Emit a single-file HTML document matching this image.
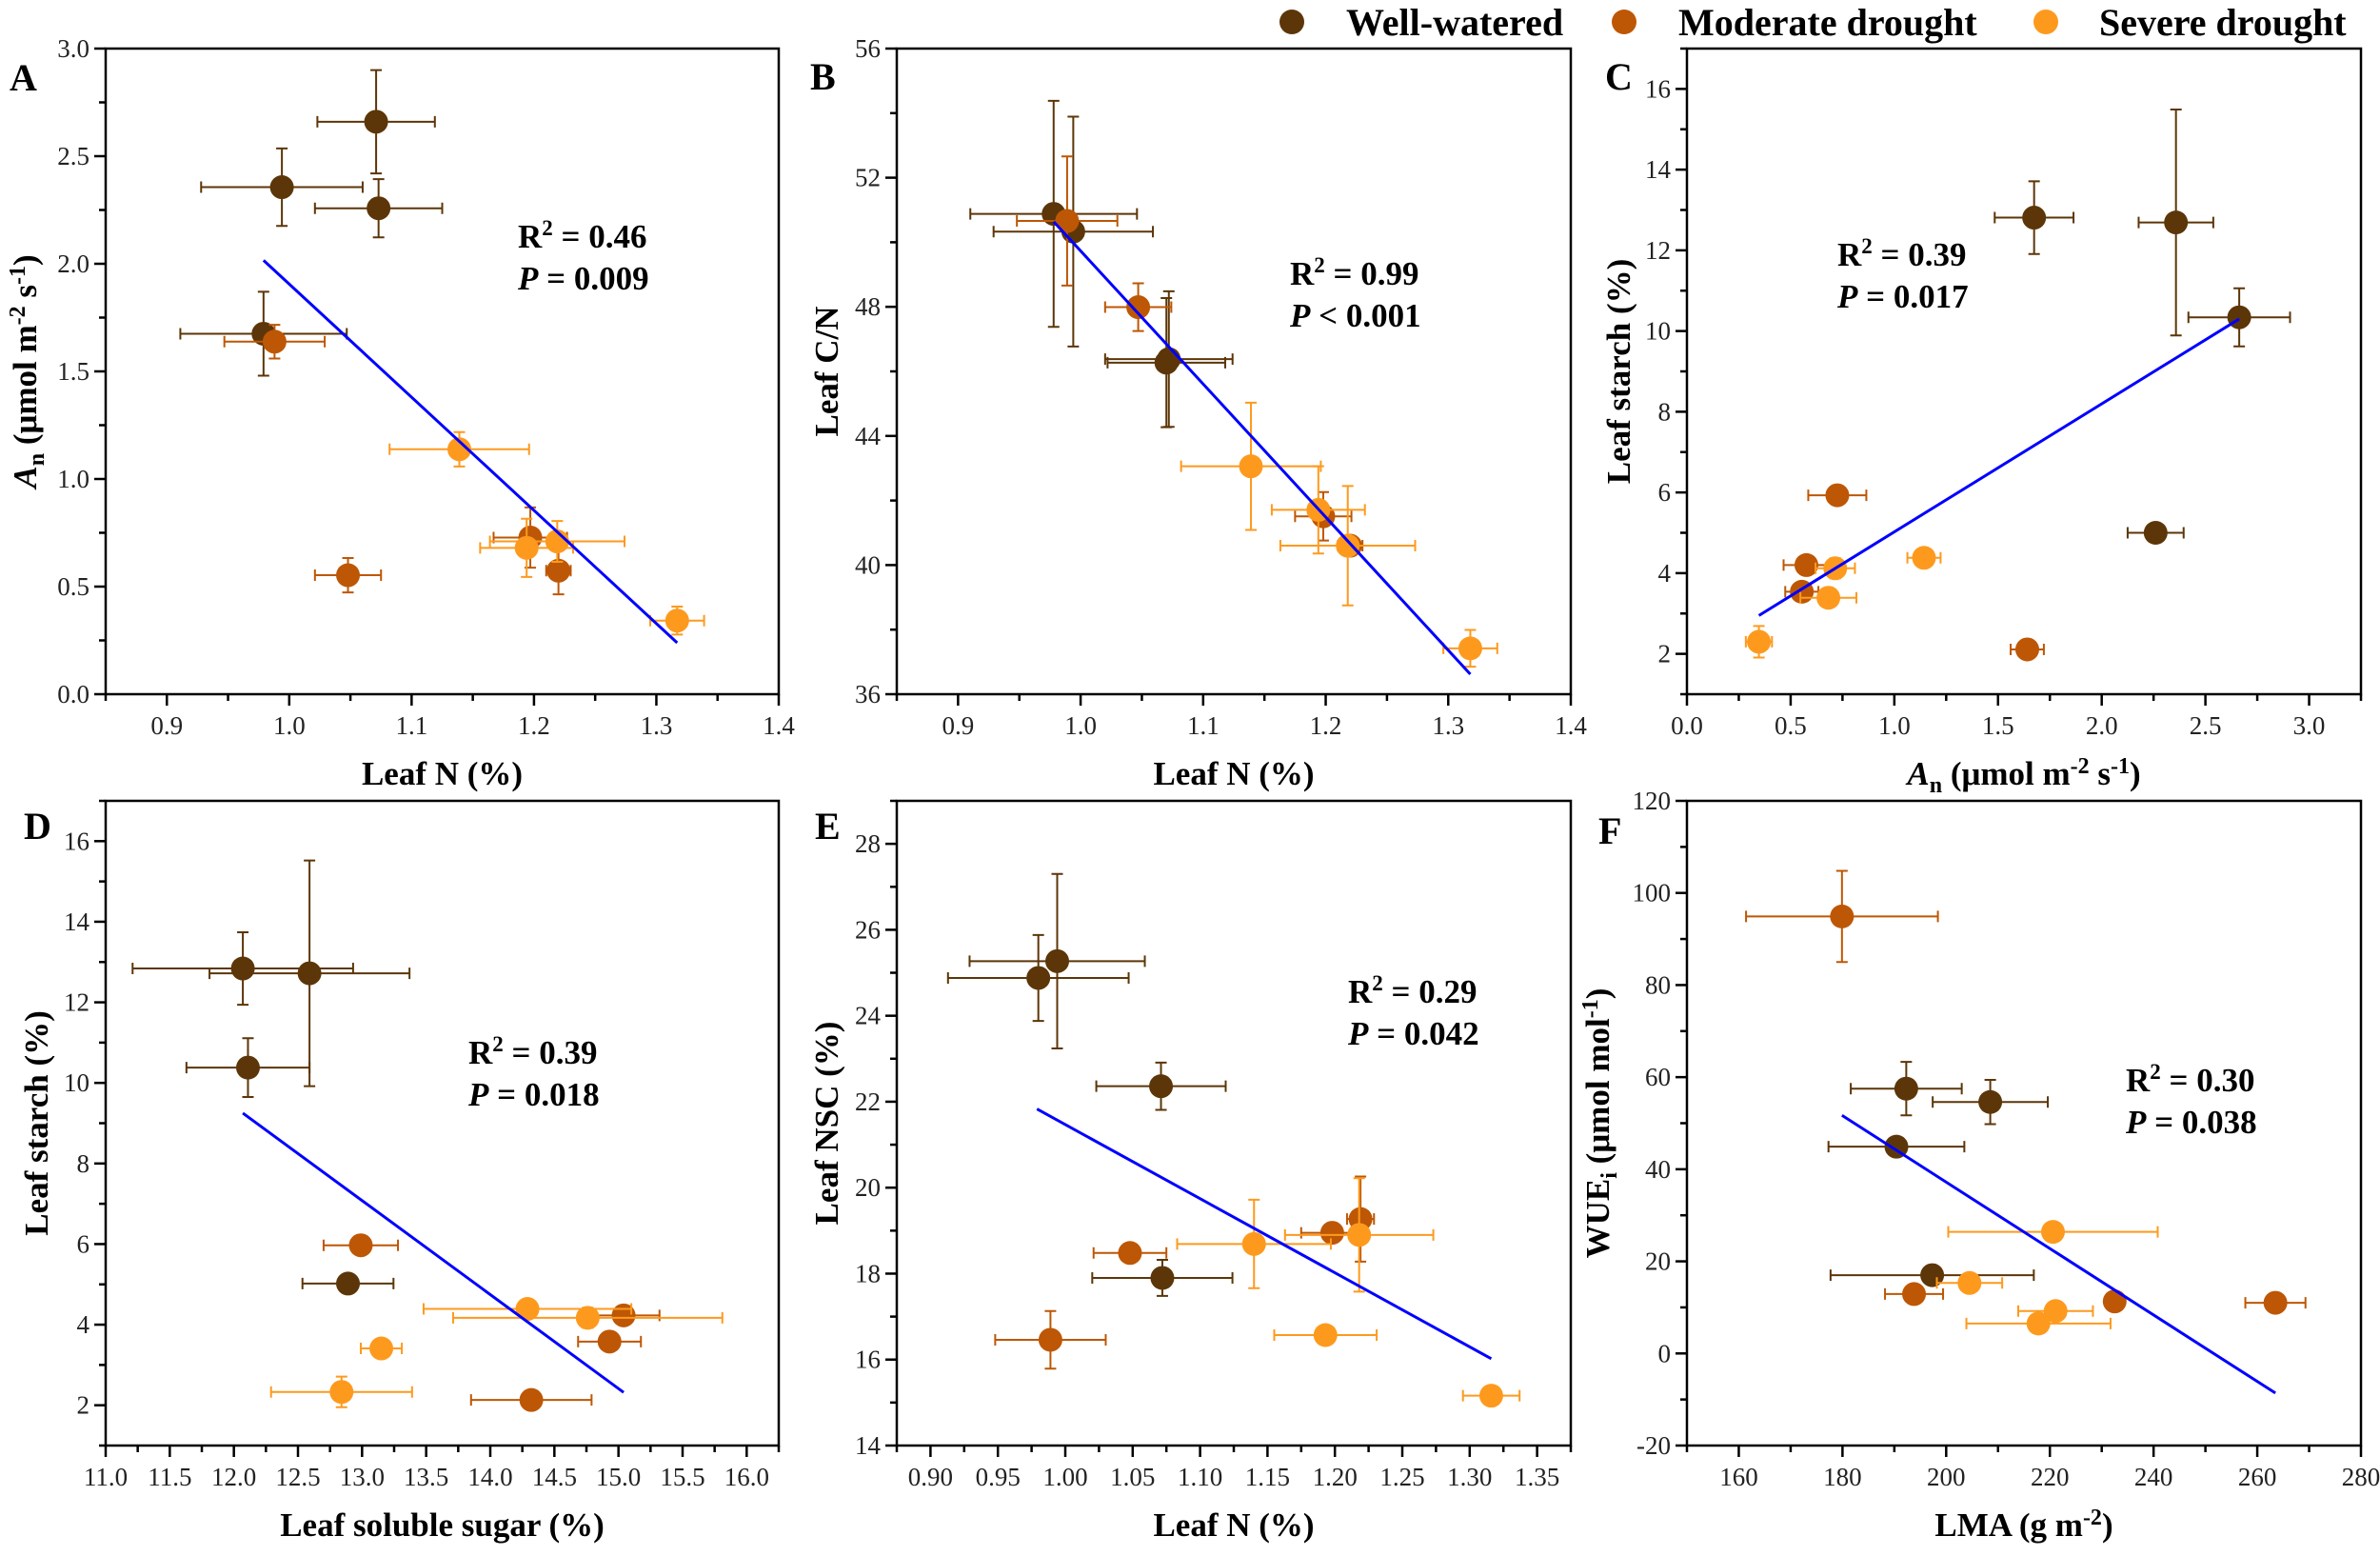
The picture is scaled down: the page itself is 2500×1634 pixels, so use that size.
<!DOCTYPE html>
<html><head><meta charset="utf-8"><style>
html,body{margin:0;padding:0;background:#fff;}
svg, svg text{font-family:"Liberation Serif","DejaVu Serif",serif !important;}
</style></head><body>
<svg id="fig" xmlns="http://www.w3.org/2000/svg" width="2500" height="1629" viewBox="0 0 2500 1629" font-family="Liberation Serif, DejaVu Serif, serif">
<rect width="2500" height="1629" fill="#fff"/>
<g font-weight="bold" font-size="40" font-family="Liberation Serif, serif">
 <g><circle cx="1357" cy="23" r="13" fill="#5c3608"/><text x="1414" y="37">Well-watered</text></g>
 <g><circle cx="1706" cy="23" r="13" fill="#bd5705"/><text x="1763" y="37">Moderate drought</text></g>
 <g><circle cx="2149" cy="23" r="13" fill="#fd9a1e"/><text x="2205" y="37">Severe drought</text></g>
</g>
</svg>
<script>
// group of each point: 0 well-watered, 1 moderate drought, 2 severe drought
const groups = [0,0,0,0,1,1,1,1,2,2,2,2];
// Panel A: Leaf N vs An
const aX = [1.071,0.994,1.073,0.979, 0.988,1.197,1.220,1.048, 1.139,1.219,1.194,1.317];
const aY = [2.66,2.356,2.258,1.675, 1.638,0.728,0.574,0.553, 1.138,0.71,0.68,0.342];
const aXerr = [0.048,0.066,0.052,0.068, 0.041,0.03,0.01,0.027, 0.057,0.055,0.038,0.022];
const aYerr = [0.24,0.18,0.135,0.195, 0.078,0.14,0.11,0.08, 0.08,0.095,0.135,0.065];
const aFitX = [0.979,1.317];
const aFitY = [2.016,0.239];
// Panel B: Leaf N vs Leaf C/N
const bX = [0.978,0.994,1.072,1.070, 0.989,1.047,1.198,1.220, 1.139,1.194,1.218,1.318];
const bY = [50.88,50.33,46.38,46.27, 50.66,47.99,41.51,40.6, 43.06,41.71,40.6,37.42];
const bXerr = [0.068,0.065,0.052,0.048, 0.041,0.027,0.023,0.01, 0.057,0.038,0.055,0.022];
const bYerr = [3.5,3.56,2.1,2.0, 2.0,0.74,0.75,0.3, 1.97,1.35,1.85,0.57];
const bFitX = [0.978,1.318];
const bFitY = [50.64,36.62];
// Panel C: An vs Leaf starch
const cX = [1.674,2.358,2.663,2.26, 0.725,0.576,0.554,1.641, 1.143,0.715,0.682,0.347];
const cY = [12.81,12.69,10.34,5.0, 5.93,4.2,3.54,2.11, 4.38,4.12,3.39,2.3];
const cXerr = [0.19,0.18,0.245,0.135, 0.14,0.11,0.08,0.08, 0.08,0.095,0.135,0.063];
const cYerr = [0.9,2.8,0.72,0.1, 0.1,0.1,0.1,0.1, 0.1,0.25,0.1,0.39];
const cFitX = [0.347,2.663];
const cFitY = [2.95,10.30];
// Panel D: Leaf soluble sugar vs Leaf starch
const dX = [12.07,12.59,12.11,12.89, 12.99,15.04,14.93,14.32, 14.29,14.76,13.15,12.84];
const dY = [12.84,12.72,10.38,5.02, 5.97,4.23,3.58,2.13, 4.39,4.17,3.41,2.33];
const dXerr = [0.86,0.78,0.48,0.355, 0.29,0.28,0.245,0.47, 0.81,1.05,0.16,0.55];
const dYerr = [0.9,2.8,0.73,0.1, 0.1,0.1,0.1,0.1, 0.1,0.25,0.1,0.38];
const dFitX = [12.07,15.04];
const dFitY = [9.25,2.32];
// Panel E: Leaf N vs Leaf NSC
const eX = [0.980,0.994,1.071,1.072, 1.048,1.219,1.198,0.989, 1.140,1.218,1.193,1.316];
const eY = [24.88,25.27,22.36,17.9, 18.48,19.27,18.95,16.46, 18.69,18.9,16.57,15.16];
const eXerr = [0.067,0.065,0.048,0.052, 0.027,0.01,0.023,0.041, 0.057,0.055,0.038,0.021];
const eYerr = [1.0,2.03,0.55,0.42, 0.1,0.99,0.1,0.67, 1.03,1.32,0.1,0.1];
const eFitX = [0.979,1.316];
const eFitY = [21.83,16.02];
// Panel F: LMA vs WUEi
const fX = [192.3,208.5,190.4,197.3, 179.9,193.8,232.5,263.5, 220.6,204.5,221.1,217.8];
const fY = [57.5,54.6,44.9,17.0, 94.9,12.9,11.3,11.0, 26.4,15.3,9.2,6.5];
const fXerr = [10.7,11.1,13.1,19.6, 18.5,5.6,1,5.8, 20.2,6.3,7.2,13.9];
const fYerr = [5.8,4.8,1,1, 9.9,1,1,1, 1,1.5,1,1];
const fFitX = [179.9,263.5];
const fFitY = [51.7,-8.6];
const statR2 = ['0.46','0.99','0.39','0.39','0.29','0.30'];
const statP = ['= 0.009','< 0.001','= 0.017','= 0.018','= 0.042','= 0.038'];

const COLORS = ['#5c3608','#bd5705','#fd9a1e'];
const FONT = 'Liberation Serif, DejaVu Serif, serif';
const NS = 'http://www.w3.org/2000/svg';
const svg = document.getElementById('fig');
function mk(tag, attrs, parent){const e=document.createElementNS(NS,tag);for(const k in attrs)e.setAttribute(k,attrs[k]);if(tag==='text')e.setAttribute('font-family',FONT);(parent||svg).appendChild(e);return e;}

const panels = [
 {key:'a',letter:'A',L:111,R:818,T:51,B:729,xmin:0.85,xmax:1.4,ymin:0,ymax:3,xs:0.9,xM:0.1,xm:0.05,xd:1,ys:0,yM:0.5,ym:0.25,yd:1,
  X:aX,Y:aY,XE:aXerr,YE:aYerr,FX:aFitX,FY:aFitY,ann:[544,260],lx:10,ly:95,ytx:38,
  xt:'Leaf N (%)', yt:'<tspan font-style="italic">A</tspan><tspan dy="8" font-size="24">n</tspan><tspan dy="-8"> (μmol m</tspan><tspan dy="-12" font-size="24">-2</tspan><tspan dy="12"> s</tspan><tspan dy="-12" font-size="24">-1</tspan><tspan dy="12">)</tspan>'},
 {key:'b',letter:'B',L:942,R:1650,T:51,B:729,xmin:0.85,xmax:1.4,ymin:36,ymax:56,xs:0.9,xM:0.1,xm:0.05,xd:1,ys:36,yM:4,ym:2,yd:0,
  X:bX,Y:bY,XE:bXerr,YE:bYerr,FX:bFitX,FY:bFitY,ann:[1355,299],lx:851,ly:94,ytx:880,
  xt:'Leaf N (%)', yt:'Leaf  C/N'},
 {key:'c',letter:'C',L:1772,R:2480,T:51,B:729,xmin:0,xmax:3.25,ymin:1,ymax:17,xs:0,xM:0.5,xm:0.25,xd:1,ys:2,yM:2,ym:1,yd:0,
  X:cX,Y:cY,XE:cXerr,YE:cYerr,FX:cFitX,FY:cFitY,ann:[1930,279],lx:1686,ly:94,ytx:1712,
  xt:'<tspan font-style="italic">A</tspan><tspan dy="8" font-size="24">n</tspan><tspan dy="-8"> (μmol m</tspan><tspan dy="-12" font-size="24">-2</tspan><tspan dy="12"> s</tspan><tspan dy="-12" font-size="24">-1</tspan><tspan dy="12">)</tspan>', yt:'Leaf starch (%)'},
 {key:'d',letter:'D',L:111,R:818,T:841,B:1518,xmin:11,xmax:16.25,ymin:1,ymax:17,xs:11,xM:0.5,xm:0.25,xd:1,ys:2,yM:2,ym:1,yd:0,
  X:dX,Y:dY,XE:dXerr,YE:dYerr,FX:dFitX,FY:dFitY,ann:[492,1117],lx:25,ly:881,ytx:50,
  xt:'Leaf soluble sugar (%)', yt:'Leaf starch (%)'},
 {key:'e',letter:'E',L:942,R:1650,T:841,B:1518,xmin:0.875,xmax:1.375,ymin:14,ymax:29,xs:0.9,xM:0.05,xm:0.025,xd:2,ys:14,yM:2,ym:1,yd:0,
  X:eX,Y:eY,XE:eXerr,YE:eYerr,FX:eFitX,FY:eFitY,ann:[1416,1053],lx:856,ly:881,ytx:880,
  xt:'Leaf N (%)', yt:'Leaf NSC (%)'},
 {key:'f',letter:'F',L:1772,R:2480,T:841,B:1518,xmin:150,xmax:280,ymin:-20,ymax:120,xs:160,xM:20,xm:10,xd:0,ys:-20,yM:20,ym:10,yd:0,
  X:fX,Y:fY,XE:fXerr,YE:fYerr,FX:fFitX,FY:fFitY,ann:[2233,1146],lx:1679,ly:886,ytx:1690,
  xt:'LMA (g m<tspan dy="-12" font-size="24">-2</tspan><tspan dy="12">)</tspan>', yt:'WUE<tspan dy="8" font-size="24">i</tspan><tspan dy="-8"> (μmol mol</tspan><tspan dy="-12" font-size="24">-1</tspan><tspan dy="12">)</tspan>'}
];

panels.forEach((p, pi) => {
  const g = mk('g', {});
  
  
  const sx = v => p.L + (v - p.xmin) / (p.xmax - p.xmin) * (p.R - p.L);
  const sy = v => p.B - (v - p.ymin) / (p.ymax - p.ymin) * (p.B - p.T);
  const xt = mk('g', {stroke:'#000','stroke-width':2.5}, g);
  
  
  const nx = Math.round((p.xmax - p.xmin) / p.xm);
  for (let i = 0; i <= nx; i++) {
    const v = p.xmin + i * p.xm;
    const q = (v - p.xs) / p.xM;
    const major = Math.abs(q - Math.round(q)) < 1e-6 && v >= p.xs - 1e-9;
    const x = sx(v);
    mk('line', {x1:x, x2:x, y1:p.B, y2:p.B + (major ? 12 : 7)}, xt);
    if (major) {
      const t = mk('text', {x:x, y:p.B + 42, 'text-anchor':'middle', 'font-size':27, fill:'#222', stroke:'none'}, g);
      
      
      t.textContent = v.toFixed(p.xd);
    }
  }
  const yt = mk('g', {stroke:'#000','stroke-width':2.5}, g);
  
  
  const ny = Math.round((p.ymax - p.ymin) / p.ym);
  for (let i = 0; i <= ny; i++) {
    const v = p.ymin + i * p.ym;
    const q = (v - p.ys) / p.yM;
    const major = Math.abs(q - Math.round(q)) < 1e-6 && v >= p.ys - 1e-9;
    const y = sy(v);
    mk('line', {x1:p.L, x2:p.L - (major ? 12 : 7), y1:y, y2:y}, yt);
    if (major) {
      const t = mk('text', {x:p.L - 17, y:y + 9, 'text-anchor':'end', 'font-size':27, fill:'#222'}, g);
      
      
      t.textContent = p.yd ? v.toFixed(p.yd) : String(Math.round(v));
    }
  }
  for (let s = 0; s < 3; s++) {
    const sg = mk('g', {}, g);
    
    
    p.X.forEach((xv, i) => {
      if (groups[i] !== s) return;
      const cx = sx(xv), cy = sy(p.Y[i]);
      const x1 = sx(xv - p.XE[i]), x2 = sx(xv + p.XE[i]);
      const y1 = sy(p.Y[i] - p.YE[i]), y2 = sy(p.Y[i] + p.YE[i]);
      const eb = mk('path', {d:`M${x1},${cy}H${x2}M${x1},${cy-6}V${cy+6}M${x2},${cy-6}V${cy+6}M${cx},${y1}V${y2}M${cx-6},${y1}H${cx+6}M${cx-6},${y2}H${cx+6}`, stroke:COLORS[s], 'stroke-width':2, fill:'none'}, sg);
      
      
      const c = mk('circle', {cx:cx, cy:cy, r:12.5, fill:COLORS[s]}, sg);
      
      
    });
  }
  const fl = mk('line', {x1:sx(p.FX[0]), y1:sy(p.FY[0]), x2:sx(p.FX[1]), y2:sy(p.FY[1]), stroke:'#0000ff', 'stroke-width':3}, g);
  
  
  const fr = mk('rect', {x:p.L, y:p.T, width:p.R - p.L, height:p.B - p.T, fill:'none', stroke:'#000', 'stroke-width':2.5}, g);
  
  
  const a1 = mk('text', {x:p.ann[0], y:p.ann[1], 'font-size':35, 'font-weight':'bold'}, g);
  
  
  a1.innerHTML = 'R<tspan dy="-13" font-size="23">2</tspan><tspan dy="13"> = ' + statR2[pi] + '</tspan>';
  const a2 = mk('text', {x:p.ann[0], y:p.ann[1] + 44, 'font-size':35, 'font-weight':'bold'}, g);
  
  
  a2.innerHTML = '<tspan font-style="italic">P</tspan> ' + statP[pi].replace('<','&lt;');
  const pl = mk('text', {x:p.lx, y:p.ly, 'font-size':40, 'font-weight':'bold'}, g);
  
  
  pl.textContent = p.letter;
  const xtt = mk('text', {x:(p.L + p.R) / 2, y:p.B + 95, 'text-anchor':'middle', 'font-size':35, 'font-weight':'bold'}, g);
  
  
  xtt.innerHTML = p.xt;
  const cyT = (p.T + p.B) / 2;
  const ytt = mk('text', {x:0, y:0, 'text-anchor':'middle', 'font-size':35, 'font-weight':'bold', transform:`translate(${p.ytx},${cyT}) rotate(-90)`}, g);
  
  
  ytt.innerHTML = p.yt;
});
</script>
</body></html>
